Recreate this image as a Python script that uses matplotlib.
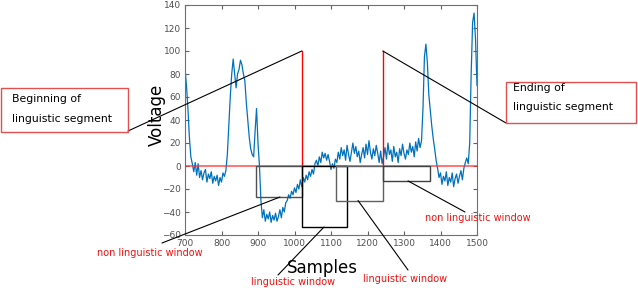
import numpy as np
import matplotlib.pyplot as plt
from matplotlib.patches import Rectangle, ConnectionPatch

# signal, one value every 4 samples (700..1500)
voltage = [
    85, 70, 50, 25, 8, 2, -5, 3, -8, 2, -10, -4, -12, -6, -3, -14, -7, -11, -5, -15,
    -9, -13, -8, -17, -10, -14, -6, -9, -4, 10, 35, 60, 80, 93, 80, 68, 80, 84, 92, 88,
    80, 74, 55, 40, 25, 15, 10, 8, 30, 50, 20, 0, -30, -45, -38, -48, -42, -46, -40, -49,
    -43, -47, -41, -48, -44, -38, -45, -36, -40, -32, -30, -25, -28, -22, -25, -19, -23, -16, -20, -12,
    -18, -10, -14, -8, -12, -5, -9, -3, -7, 2, 5, 0, 8, 3, 12, 7, 11, 5, 10, 4,
    -3, 2, -2, 6, 3, 12, 6, 16, 9, 14, 5, 18, 10, 4, 12, 20, 11, 17, 8, 13,
    3, 10, 16, 7, 19, 10, 22, 12, 6, 15, 9, 18, 11, 3, 13, 2, 8, 16, 6, 20,
    10, 14, 4, 17, 8, 12, 3, 15, 9, 19, 11, 6, 14, 10, 20, 12, 17, 8, 21, 13,
    24, 16, 22, 50, 95, 106, 90, 62, 48, 35, 24, 15, 5, -2, -10, -6, -16, -9, -13, -5,
    -17, -10, -14, -6, -18, -11, -7, -15, -9, -4, -12, -2, 3, 7, 2, 20, 80, 125, 133, 110,
    70,
]
samples = np.linspace(700, 1500, len(voltage))

# segment boundaries (samples)
seg_start = 1020
seg_end = 1242
# windows: (start, end, depth drawn below zero, colour)
win_start = [895, 1020, 1115, 1242]
win_end = [1020, 1145, 1242, 1370]
win_depth = [-27, -53, -30, -13]
win_color = ['#505050', 'black', '#606060', '#404040']

fig = plt.figure(figsize=(6.38, 2.88), dpi=100)
ax = fig.add_axes([185/638, 53/288, 292/638, 230/288])

ax.plot(samples, voltage, color='#0072BD', lw=0.9, zorder=2)
ax.axhline(0, color='#ff3030', lw=1.1, alpha=0.85, zorder=3)
ax.plot([seg_start, seg_start], [0, 100], color='red', lw=1, zorder=3)
ax.plot([seg_end, seg_end], [0, 100], color='red', lw=1, zorder=3)

for s, e, d, c in zip(win_start, win_end, win_depth, win_color):
    ax.add_patch(Rectangle((s, d), e - s, -d, fill=False, edgecolor=c, lw=1, zorder=4))

ax.set_xlim(700, 1500)
ax.set_ylim(-60, 140)
ax.set_xticks(np.arange(700, 1501, 100))
ax.set_yticks(np.arange(-60, 141, 20))
ax.tick_params(direction='in', length=3, labelsize=6.5, labelcolor='#505050',
               color='#606060', top=True, right=True, pad=3)
for sp in ax.spines.values():
    sp.set_color('#707070')
    sp.set_linewidth(0.8)

ax.set_xlabel('Samples', fontsize=12)
ax.xaxis.set_label_coords((322 - 185) / 292, -(259 - 235) / 230)
ax.set_ylabel('Voltage', fontsize=12)
ax.yaxis.set_label_coords(-(185 - 166) / 292, (235 - 115) / 230)

# overlay in image pixel coordinates for the call-out boxes
ov = fig.add_axes([0, 0, 1, 1], zorder=5)
ov.set_xlim(0, 638)
ov.set_ylim(288, 0)
ov.axis('off')
ov.patch.set_alpha(0)

box_col = '#e05050'
ov.add_patch(Rectangle((1, 88), 127, 44, fill=False, edgecolor=box_col, lw=1))
ov.text(12, 99, 'Beginning of', fontsize=7.8, va='center')
ov.text(12, 119, 'linguistic segment', fontsize=7.8, va='center')
ov.add_patch(Rectangle((506, 82), 130, 41, fill=False, edgecolor=box_col, lw=1))
ov.text(513, 88, 'Ending of', fontsize=7.8, va='center')
ov.text(513, 107, 'linguistic segment', fontsize=7.8, va='center')

labels = ['non linguistic window', 'linguistic window', 'linguistic window',
          'non linguistic window']
label_xy = [(150, 253), (293, 282), (405, 279), (478, 218)]
for t, (x, y) in zip(labels, label_xy):
    ov.text(x, y, t, fontsize=7, color='#ee1111', ha='center', va='center')

# connector lines: (pixel point, data point)
links = [
    ((128, 131), (seg_start, 100)),
    ((506, 123), (seg_end, 100)),
    ((162, 243), (960, -27)),
    ((278, 275), (1081, -53)),
    ((408, 270), (1174, -30)),
    ((465, 212), (1311, -13)),
]
for p, d in links:
    con = ConnectionPatch(xyA=p, coordsA=ov.transData, xyB=d, coordsB=ax.transData,
                          color='black', lw=0.8)
    fig.add_artist(con)

fig.savefig('out.png', dpi=100)
